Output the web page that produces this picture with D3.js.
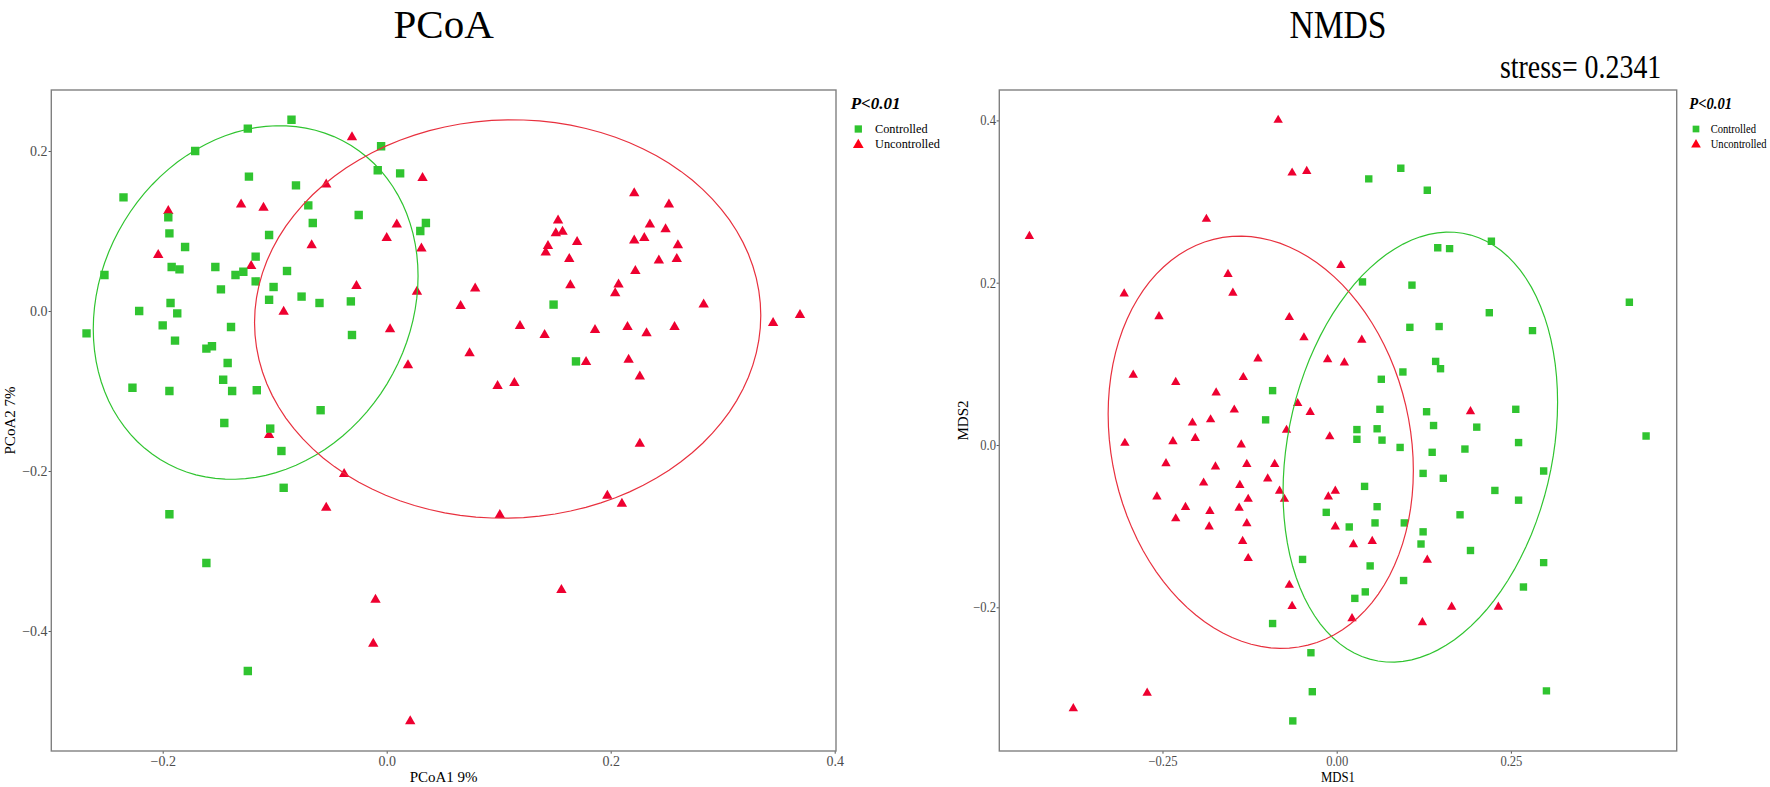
<!DOCTYPE html>
<html><head><meta charset="utf-8">
<script src="https://cdn.jsdelivr.net/npm/d3@7"></script>
<style>body{margin:0;background:#fff}svg{display:block}</style>
</head><body><svg id="c" width="1770" height="787"></svg>
<script>
// ---------------- DATA ----------------
const groups = ["Controlled", "Uncontrolled"];
const groupColors = {Controlled: "#30C430", Uncontrolled: "#EE0030"};
const pValueLabel = "P<0.01";
const stressLabel = "stress= 0.2341";

// PCoA (PCoA1 9%, PCoA2 7%)
const pcoaXTicks = [-0.2, 0.0, 0.2, 0.4];
const pcoaYTicks = [-0.4, -0.2, 0.0, 0.2];
const pcoaControlled = [
  [-0.085,0.239],[-0.124,0.228],[-0.171,0.200],[-0.235,0.142],[-0.123,0.168],[-0.081,0.157],
  [-0.005,0.206],[-0.008,0.176],[0.012,0.172],[-0.070,0.132],[-0.195,0.117],[-0.194,0.097],
  [-0.180,0.080],[-0.066,0.110],[-0.025,0.120],[0.030,0.100],[0.035,0.110],[-0.105,0.095],
  [-0.117,0.068],[-0.153,0.055],[-0.192,0.055],[-0.185,0.052],[-0.252,0.045],[-0.135,0.045],
  [-0.128,0.049],[-0.089,0.050],[-0.117,0.037],[-0.148,0.027],[-0.101,0.030],[-0.105,0.014],
  [-0.076,0.018],[-0.060,0.010],[-0.032,0.012],[-0.193,0.010],[-0.221,0.000],[-0.187,-0.003],
  [-0.268,-0.028],[-0.200,-0.018],[-0.189,-0.037],[-0.139,-0.020],[-0.031,-0.030],[-0.161,-0.047],
  [-0.156,-0.044],[-0.142,-0.065],[-0.146,-0.086],[-0.227,-0.096],[-0.194,-0.100],[-0.138,-0.100],
  [-0.116,-0.099],[-0.059,-0.124],[-0.145,-0.140],[-0.104,-0.147],[-0.094,-0.175],[-0.092,-0.221],
  [-0.194,-0.254],[-0.161,-0.315],[-0.124,-0.450],[0.149,0.008],[0.169,-0.063]
];
const pcoaUncontrolled = [
  [-0.031,0.219],[0.032,0.168],[-0.054,0.160],[-0.195,0.127],[-0.130,0.135],[-0.110,0.131],
  [-0.204,0.072],[-0.067,0.084],[0.000,0.093],[0.009,0.110],[0.031,0.080],[-0.121,0.058],
  [-0.027,0.033],[0.027,0.026],[-0.092,0.001],[0.003,-0.021],[0.019,-0.066],[-0.105,-0.153],
  [-0.038,-0.202],[-0.054,-0.244],[-0.010,-0.359],[-0.012,-0.414],[0.021,-0.511],
  [0.221,0.149],[0.252,0.135],[0.153,0.115],[0.157,0.101],[0.151,0.099],[0.170,0.088],
  [0.144,0.083],[0.142,0.075],[0.163,0.067],[0.235,0.110],[0.249,0.104],[0.221,0.090],
  [0.230,0.093],[0.260,0.084],[0.243,0.065],[0.259,0.067],[0.222,0.052],[0.207,0.035],
  [0.204,0.024],[0.164,0.034],[0.079,0.030],[0.066,0.008],[0.283,0.010],[0.345,-0.013],
  [0.369,-0.003],[0.119,-0.017],[0.141,-0.028],[0.186,-0.022],[0.215,-0.018],[0.232,-0.026],
  [0.257,-0.018],[0.074,-0.051],[0.178,-0.062],[0.216,-0.059],[0.226,-0.080],[0.099,-0.092],
  [0.114,-0.088],[0.226,-0.164],[0.197,-0.229],[0.210,-0.239],[0.101,-0.253],[0.156,-0.347]
];
// ellipse: centre, half-width (x), half-height (y), xy coupling term
const pcoaEllipseControlled   = {cx:-0.117, cy: 0.0106, hw:0.145, hh:0.221, k: 0.0048};
const pcoaEllipseUncontrolled = {cx: 0.108, cy:-0.010,  hw:0.226, hh:0.249, k: 0.0010};

// NMDS (MDS1, MDS2)
const nmdsXTicks = [-0.25, 0.0, 0.25];
const nmdsYTicks = [-0.2, 0.0, 0.2, 0.4];
const nmdsControlled = [
  [-0.092,0.067],[-0.102,0.031],[0.092,0.341],[0.046,0.328],[0.130,0.314],[0.222,0.251],
  [0.145,0.243],[0.162,0.242],[0.037,0.201],[0.108,0.197],[0.420,0.176],[0.219,0.163],
  [0.105,0.145],[0.147,0.146],[0.281,0.141],[0.142,0.103],[0.149,0.094],[0.095,0.090],
  [0.064,0.081],[0.062,0.044],[0.129,0.041],[0.257,0.044],[0.139,0.024],[0.201,0.022],
  [0.444,0.011],[0.029,0.019],[0.029,0.007],[0.058,0.020],[0.065,0.006],[0.261,0.003],
  [0.091,-0.003],[0.137,-0.009],[0.184,-0.005],[0.297,-0.032],[0.124,-0.035],[0.153,-0.041],
  [0.227,-0.056],[0.261,-0.068],[0.040,-0.051],[0.058,-0.076],[-0.015,-0.083],[0.018,-0.101],
  [0.055,-0.096],[0.097,-0.096],[0.177,-0.086],[0.124,-0.107],[0.121,-0.122],[0.192,-0.130],
  [0.297,-0.145],[-0.049,-0.141],[0.048,-0.149],[0.096,-0.167],[0.268,-0.175],[0.026,-0.189],
  [0.041,-0.181],[-0.037,-0.256],[-0.035,-0.304],[0.301,-0.303],[-0.092,-0.220],[-0.063,-0.340]
];
const nmdsUncontrolled = [
  [-0.084,0.402],[-0.064,0.337],[-0.043,0.339],[-0.441,0.259],[-0.187,0.280],[0.006,0.223],
  [-0.156,0.212],[-0.149,0.189],[-0.305,0.188],[-0.255,0.160],[-0.068,0.159],[-0.047,0.134],
  [-0.113,0.108],[-0.013,0.107],[0.011,0.103],[-0.292,0.088],[-0.231,0.079],[-0.134,0.085],
  [-0.173,0.066],[-0.056,0.053],[-0.147,0.045],[-0.038,0.042],[-0.181,0.033],[-0.207,0.029],
  [-0.072,0.020],[0.036,0.131],[0.192,0.043],[-0.010,0.012],[-0.304,0.004],[-0.235,0.006],
  [-0.203,0.010],[-0.137,0.002],[-0.245,-0.021],[-0.174,-0.025],[-0.129,-0.022],[-0.089,-0.022],
  [-0.191,-0.045],[-0.139,-0.048],[-0.099,-0.040],[-0.082,-0.055],[-0.258,-0.062],[-0.127,-0.065],
  [-0.075,-0.065],[-0.012,-0.062],[-0.002,-0.055],[-0.217,-0.075],[-0.182,-0.080],[-0.140,-0.076],
  [-0.231,-0.089],[-0.183,-0.099],[-0.129,-0.095],[-0.002,-0.099],[-0.135,-0.117],[-0.127,-0.138],
  [0.024,-0.121],[-0.068,-0.171],[-0.064,-0.197],[0.022,-0.212],[-0.272,-0.304],[-0.378,-0.323],
  [0.051,-0.117],[0.130,-0.140],[0.165,-0.198],[0.232,-0.198],[0.123,-0.217]
];
const nmdsEllipseControlled   = {cx: 0.120, cy:-0.0026, hw:0.197, hh:0.265, k: 0.0109};
const nmdsEllipseUncontrolled = {cx:-0.109, cy: 0.0034, hw:0.219, hh:0.254, k:-0.0076};

// ---------------- DRAWING ----------------
const svg = d3.select("#c");
const FONT = "'Liberation Serif','Times New Roman',serif";

const triangleType = {
  draw(ctx, size) { // size = width^2 ; centred on bounding box
    const w = Math.sqrt(size), h = w * 0.87;
    ctx.moveTo(0, -h / 2); ctx.lineTo(w / 2, h / 2); ctx.lineTo(-w / 2, h / 2); ctx.closePath();
  }
};
const squareType = {
  draw(ctx, size) { const s = Math.sqrt(size) / 2; ctx.rect(-s, -s, 2 * s, 2 * s); }
};

function ellipsePoints(e) {
  const C = e.k / e.hw, D = Math.sqrt(e.hh * e.hh - C * C);
  return d3.range(0, 101).map(i => {
    const t = i / 100 * 2 * Math.PI;
    return [e.cx + e.hw * Math.cos(t), e.cy + C * Math.cos(t) + D * Math.sin(t)];
  });
}

function scaledText(g, x, y, sx, txt, attrs) {
  const t = g.append("g").attr("transform", `translate(${x},${y}) scale(${sx},1)`)
    .append("text").text(txt).attr("font-family", FONT);
  Object.entries(attrs || {}).forEach(([k, v]) => t.attr(k, v));
  return t;
}

function drawPanel(cfg) {
  const g = svg.append("g");
  const x = d3.scaleLinear().domain(cfg.xDomain).range([cfg.left, cfg.right]);
  const y = d3.scaleLinear().domain(cfg.yDomain).range([cfg.bottom, cfg.top]);

  // axes
  const ax = g.append("g").attr("transform", `translate(0,${cfg.bottom})`)
    .call(d3.axisBottom(x).tickValues(cfg.xTicks).tickFormat(d3.format(cfg.xFmt))
      .tickSizeInner(2.7).tickSizeOuter(0).tickPadding(2.5));
  const ay = g.append("g").attr("transform", `translate(${cfg.left},0)`)
    .call(d3.axisLeft(y).tickValues(cfg.yTicks).tickFormat(d3.format(cfg.yFmt))
      .tickSizeInner(2.7).tickSizeOuter(0).tickPadding(1));
  [ax, ay].forEach(a => {
    a.select(".domain").remove();
    a.selectAll("line").attr("stroke", "#555").attr("stroke-width", 1);
    a.selectAll("text").attr("font-family", FONT).attr("font-size", 14).attr("fill", "#4D4D4D")
      .attr("transform", `scale(${cfg.tickSx},1)`);
  });

  // ellipses
  const line = d3.line().x(d => x(d[0])).y(d => y(d[1]));
  const clipId = "clip" + cfg.id;
  g.append("clipPath").attr("id", clipId).append("rect")
    .attr("x", cfg.left).attr("y", cfg.top).attr("width", cfg.right - cfg.left).attr("height", cfg.bottom - cfg.top);

  const pts = g.append("g").attr("clip-path", `url(#${clipId})`);
  // red first, then green
  pts.selectAll("path.u").data(cfg.uncontrolled).join("path").attr("class", "u")
    .attr("transform", d => `translate(${x(d[0])},${y(d[1])})`)
    .attr("d", d3.symbol().type(triangleType).size(cfg.triW * cfg.triW))
    .attr("fill", groupColors.Uncontrolled);
  pts.selectAll("path.c").data(cfg.controlled).join("path").attr("class", "c")
    .attr("transform", d => `translate(${x(d[0])},${y(d[1])})`)
    .attr("d", d3.symbol().type(squareType).size(cfg.sqW * cfg.sqW))
    .attr("fill", groupColors.Controlled);

  pts.append("path").attr("d", line(ellipsePoints(cfg.ellC))).attr("fill", "none")
    .attr("stroke", groupColors.Controlled).attr("stroke-width", 1.2);
  pts.append("path").attr("d", line(ellipsePoints(cfg.ellU))).attr("fill", "none")
    .attr("stroke", "#E8303E").attr("stroke-width", 1.2);

  // border
  g.append("rect").attr("x", cfg.left).attr("y", cfg.top)
    .attr("width", cfg.right - cfg.left).attr("height", cfg.bottom - cfg.top)
    .attr("fill", "none").attr("stroke", "#808080").attr("stroke-width", 1.4);

  // axis titles
  scaledText(g, (cfg.left + cfg.right) / 2, 781.5, cfg.labSx, cfg.xLabel,
    {"text-anchor": "middle", "font-size": 15, fill: "#000"});
  g.append("text").text(cfg.yLabel).attr("font-family", FONT).attr("font-size", 15)
    .attr("text-anchor", "middle").attr("fill", "#000")
    .attr("transform", `translate(${cfg.yLabX},${(cfg.top + cfg.bottom) / 2}) rotate(-90)`);

  // title
  scaledText(g, (cfg.left + cfg.right) / 2, 38, cfg.titleSx, cfg.title,
    {"text-anchor": "middle", "font-size": 41, fill: "#000"});

  // legend
  const L = cfg.legend;
  scaledText(g, L.x, 109.3, L.sx, pValueLabel,
    {"font-size": 17, "font-weight": "bold", "font-style": "italic", fill: "#000"});
  groups.forEach((grp, i) => {
    const ky = i === 0 ? 129 : 143.3;
    g.append("path").attr("transform", `translate(${L.keyX},${ky})`)
      .attr("d", d3.symbol().type(i === 0 ? squareType : triangleType)
        .size(i === 0 ? L.sq * L.sq : L.tri * L.tri))
      .attr("fill", i === 0 ? groupColors.Controlled : "#FF0016");
    scaledText(g, L.textX, i === 0 ? 133.3 : 148.3, L.sx, grp, {"font-size": 12.3, fill: "#000"});
  });
  return g;
}

drawPanel({
  id: "pcoa", left: 51.3, right: 836, top: 90, bottom: 751,
  xDomain: [-0.29946, 0.40116], yDomain: [-0.55, 0.27625],
  xTicks: pcoaXTicks, yTicks: pcoaYTicks, xFmt: ".1f", yFmt: ".1f",
  controlled: pcoaControlled, uncontrolled: pcoaUncontrolled,
  ellC: pcoaEllipseControlled, ellU: pcoaEllipseUncontrolled,
  sqW: 8.4, triW: 10.4, tickSx: 1, labSx: 1, titleSx: 1,
  xLabel: "PCoA1 9%", yLabel: "PCoA2 7%", yLabX: 15, title: "PCoA",
  legend: {x: 850.7, keyX: 858.3, textX: 875, sx: 1, sq: 7.3, tri: 10.7}
});

const nm = drawPanel({
  id: "nmds", left: 999.3, right: 1676.7, top: 90, bottom: 751,
  xDomain: [-0.48421, 0.48794], yDomain: [-0.37708, 0.43746],
  xTicks: nmdsXTicks, yTicks: nmdsYTicks, xFmt: ".2f", yFmt: ".1f",
  controlled: nmdsControlled, uncontrolled: nmdsUncontrolled,
  ellC: nmdsEllipseControlled, ellU: nmdsEllipseUncontrolled,
  sqW: 7.4, triW: 9.4, tickSx: 0.9, labSx: 0.85, titleSx: 0.82,
  xLabel: "MDS1", yLabel: "MDS2", yLabX: 968, title: "NMDS",
  legend: {x: 1689.3, keyX: 1696, textX: 1710.7, sx: 0.86, sq: 6.7, tri: 9.7}
});
scaledText(nm, 1500, 78, 0.82, stressLabel, {"font-size": 34, fill: "#000"});
</script></body></html>
